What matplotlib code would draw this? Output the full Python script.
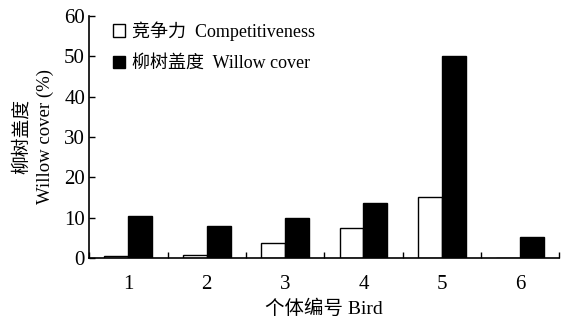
import matplotlib.pyplot as plt
import numpy as np

birds = ['1', '2', '3', '4', '5', '6']
competitiveness = [0.5, 0.8, 3.6, 7.3, 15.1, 0.0]
willow_cover = [10.4, 7.8, 9.8, 13.6, 50.0, 5.1]

plt.rcParams['font.family'] = ['Liberation Serif', 'Noto Sans CJK SC']
plt.rcParams['font.size'] = 14

fig = plt.figure(figsize=(5.61, 3.18), dpi=100)
ax = fig.add_axes([0.159, 0.189, 0.838, 0.761])

x = np.arange(1, len(birds) + 1)
w = 0.305
ax.bar(x - w / 2, competitiveness, width=w, facecolor='white', edgecolor='black',
       linewidth=1.0, label='竞争力  Competitiveness')
ax.bar(x + w / 2, willow_cover, width=w, facecolor='black', edgecolor='black',
       linewidth=1.0, label='柳树盖度  Willow cover')

ax.set_xlim(0.5, 6.5)
ax.set_ylim(0, 60)
ax.set_yticks(range(0, 61, 10))
ax.set_xticks(x)
ax.set_xticklabels(birds)
ax.set_xticks(np.arange(0.5, 6.6, 1), minor=True)
ax.tick_params(axis='x', which='major', length=0, pad=12, labelsize=15)
ax.tick_params(axis='x', which='minor', direction='in', length=4, width=1)
ax.tick_params(axis='y', direction='in', length=4, width=1, pad=3, labelsize=15)

for s in ['top', 'right']:
    ax.spines[s].set_visible(False)
for s in ['left', 'bottom']:
    ax.spines[s].set_linewidth(1.2)

ax.set_xlabel('个体编号 Bird', labelpad=4)
ax.set_ylabel('柳树盖度\nWillow cover (%)', fontsize=13.5, linespacing=1.5, labelpad=7)

ax.legend(loc='upper left', bbox_to_anchor=(0.015, 1.045), frameon=False,
          handlelength=0.7, handleheight=0.7, handletextpad=0.4,
          labelspacing=0.8, fontsize=13)

fig.savefig('out.png', dpi=100)
